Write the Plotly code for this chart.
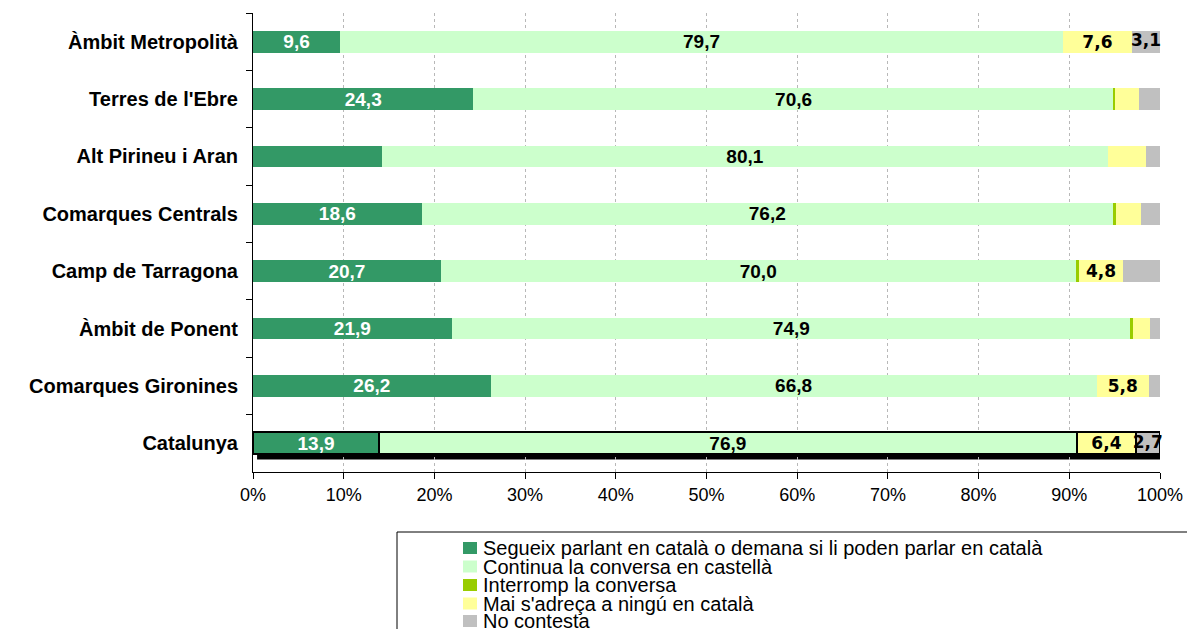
import plotly.graph_objects as go

# ---------------- data ----------------
categories = ["Àmbit Metropolità", "Terres de l'Ebre", "Alt Pirineu i Aran",
              "Comarques Centrals", "Camp de Tarragona", "Àmbit de Ponent",
              "Comarques Gironines", "Catalunya"]

series_names = ["Segueix parlant en català o demana si li poden parlar en català",
                "Continua la conversa en castellà",
                "Interromp la conversa",
                "Mai s'adreça a ningú en català",
                "No contesta"]

segueix = [9.6, 24.3, 14.2, 18.6, 20.7, 21.9, 26.2, 13.9]
continua = [79.7, 70.6, 80.1, 76.2, 70.0, 74.9, 66.8, 76.9]
interromp = [0.0, 0.1, 0.0, 0.4, 0.4, 0.2, 0.0, 0.1]
mai = [7.6, 2.7, 4.2, 2.7, 4.8, 1.9, 5.8, 6.4]
no_contesta = [3.1, 2.3, 1.5, 2.1, 4.1, 1.1, 1.2, 2.7]

# which values carry a data label
show_segueix = [True, True, False, True, True, True, True, True]
show_continua = [True] * 8
show_interromp = [False] * 8
show_mai = [True, False, False, False, True, False, True, True]
show_no = [True, False, False, False, False, False, False, True]

x_ticks = list(range(0, 101, 10))
x_tick_labels = [f"{t}%" for t in x_ticks]

# ---------------- style ----------------
colors = ["#339966", "#CCFFCC", "#99CC00", "#FFFF99", "#C0C0C0"]
arial = "Liberation Sans, Arial, sans-serif"
wide = "DejaVu Sans, Verdana, sans-serif"
text_fonts = [dict(family=arial, size=19, color="white", weight="bold"),
              dict(family=arial, size=19, color="black", weight="bold"),
              dict(family=arial, size=19, color="black", weight="bold"),
              dict(family=wide, size=17, color="black", weight="bold"),
              dict(family=wide, size=17, color="black", weight="bold")]

values = [segueix, continua, interromp, mai, no_contesta]
shows = [show_segueix, show_continua, show_interromp, show_mai, show_no]

def fmt(v, s):
    return f"{v:.1f}".replace(".", ",") if s else ""

highlight = "Catalunya"
line_w = [2 if c == highlight else 0 for c in categories]

fig = go.Figure()

# drop shadow behind the highlighted (Catalunya) bar
bargap = 0.62
idx = categories.index(highlight)
total = sum(v[idx] for v in values)
half = (1 - bargap) / 2
dx, dy = 0.45, 0.09
fig.add_shape(type="rect", xref="x", yref="y", layer="below",
              x0=0 + dx, x1=total + dx, y0=idx - half + dy, y1=idx + half + dy,
              fillcolor="black", line=dict(width=0))

last = len(values) - 1
for i, (name, vals, show, col, tf) in enumerate(zip(series_names, values, shows, colors, text_fonts)):
    fig.add_trace(go.Bar(
        name=name, y=categories, x=vals, orientation="h",
        marker=dict(color=col, line=dict(color="black", width=line_w)),
        text=[fmt(v, s) for v, s in zip(vals, show)] if i != last else None,
        textposition="inside", insidetextanchor="middle",
        textangle=0, constraintext="none", cliponaxis=False,
        textfont=tf, insidetextfont=tf,
        hoverinfo="name+x", showlegend=False,
    ))

# labels of the narrow last segment (they overflow it), placed at segment centres
cum_before = [sum(v[k] for v in values[:last]) for k in range(len(categories))]
fig.add_trace(go.Scatter(
    x=[c + v / 2 for c, v in zip(cum_before, no_contesta)], y=categories,
    mode="text", text=[fmt(v, s) for v, s in zip(no_contesta, show_no)],
    textposition="middle center", textfont=text_fonts[last],
    cliponaxis=False, hoverinfo="skip", showlegend=False,
))

# plot-area geometry (pixels) used for legend placement in paper coords
W, H = 1187, 629
ml, mr, mt, mb = 253, 27, 13, 157
pw, ph = W - ml - mr, H - mt - mb

def px(x):
    return (x - ml) / pw

def py(y):
    return (H - mb - y) / ph

# legend drawn as a boxed list (cut by the bottom edge as in the original)
fig.add_shape(type="rect", xref="paper", yref="paper",
              x0=px(397), x1=px(1210), y0=py(532), y1=py(660),
              line=dict(color="black", width=1), fillcolor="rgba(0,0,0,0)")
leg_y = [548, 566.5, 585, 603.5, 621]
for name, col, yc in zip(series_names, colors, leg_y):
    fig.add_shape(type="rect", xref="paper", yref="paper",
                  x0=px(463), x1=px(477), y0=py(yc - 6), y1=py(yc + 6),
                  fillcolor=col, line=dict(width=0))
    fig.add_annotation(xref="paper", yref="paper", x=px(481), y=py(yc),
                       xanchor="left", yanchor="middle", showarrow=False,
                       text=name, font=dict(family=arial, size=20, color="black"))

fig.update_layout(
    barmode="stack", bargap=bargap,
    width=W, height=H,
    margin=dict(l=ml, r=mr, t=mt, b=mb, pad=0, autoexpand=False),
    paper_bgcolor="white", plot_bgcolor="white",
    showlegend=False,
    font=dict(family=arial, color="black"),
)
fig.update_xaxes(range=[0, 100], tickvals=x_ticks, ticktext=x_tick_labels,
                 tickfont=dict(family=arial, size=18, color="black"),
                 showline=True, linecolor="#000000", linewidth=1,
                 ticks="outside", ticklen=6, tickcolor="#000000",
                 showgrid=True, gridcolor="#B8B8B8", griddash="3px,3px", gridwidth=1,
                 zeroline=False, fixedrange=True, automargin=False)
fig.update_yaxes(autorange="reversed", categoryorder="array", categoryarray=categories,
                 tickfont=dict(family=arial, size=20, color="black", weight="bold"),
                 showline=True, linecolor="#000000", linewidth=1,
                 ticks="outside", ticklen=6, tickcolor="#000000", tickson="boundaries",
                 ticklabelstandoff=10, showgrid=False, zeroline=False, fixedrange=True,
                 automargin=False)

fig.write_html("out.html", config={"displayModeBar": False},
               post_script="document.body.style.margin='0px';document.body.style.overflow='hidden';")
